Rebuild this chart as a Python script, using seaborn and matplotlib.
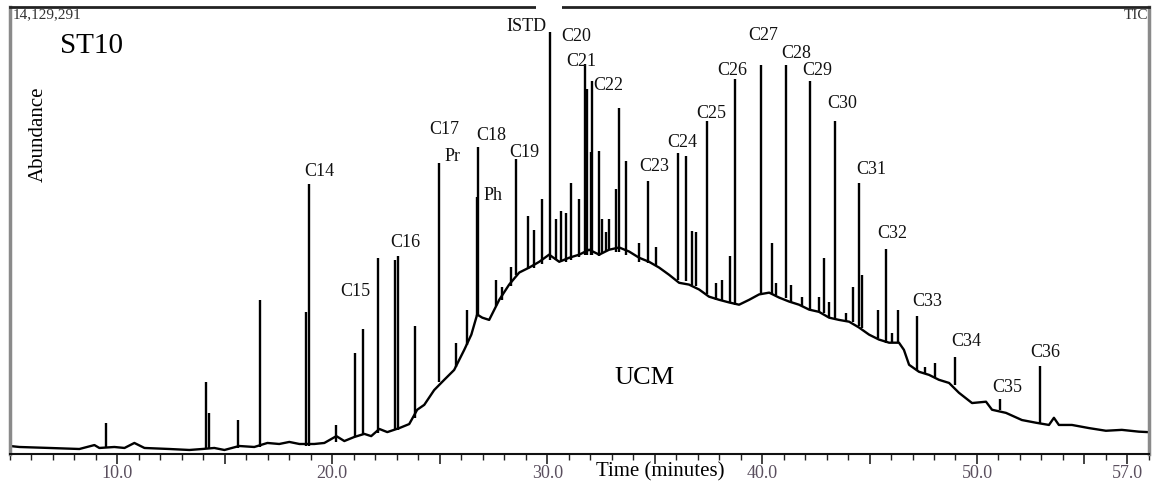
import numpy as np
import pandas as pd
import matplotlib
matplotlib.use("Agg")
import matplotlib.pyplot as plt
import matplotlib.transforms as mtransforms
from matplotlib.patches import Rectangle
from matplotlib.ticker import FixedLocator, MultipleLocator
import seaborn as sns

# ---------------- data ----------------
full_scale_label = "14,129,291"
sample_name = "ST10"

# background trace (baseline + unresolved complex mixture hump)
# time in minutes, abundance in % of full scale
base_time = [5.0, 5.44, 6.84, 8.23, 8.93, 9.16, 9.86, 10.33, 10.79, 11.26,
             12.42, 13.35, 13.95, 14.51, 14.98, 15.67, 16.37, 16.98, 17.53, 18.0,
             18.47, 19.16, 19.63, 20.19, 20.56, 21.02, 21.49, 21.81, 22.19, 22.56,
             23.12, 23.58, 23.95, 24.28, 24.74, 25.21, 25.67, 26.14, 26.47, 26.74,
             26.98, 27.3, 27.77, 28.23, 28.7, 29.16, 29.63, 30.09, 30.56, 31.02,
             31.49, 31.95, 32.42, 32.88, 33.35, 33.81, 34.28, 34.74, 35.21, 35.67,
             36.14, 36.6, 37.07, 37.53, 38.0, 38.47, 38.93, 39.4, 39.86, 40.33,
             40.79, 41.26, 41.72, 42.19, 42.65, 43.12, 43.58, 44.05, 44.51, 44.98,
             45.44, 45.91, 46.37, 46.6, 46.84, 47.3, 47.77, 48.23, 48.7, 49.16,
             49.77, 50.42, 50.7, 51.35, 52.09, 52.74, 53.35, 53.58, 53.81, 54.42,
             55.21, 56.0, 56.74, 57.53, 57.95]
base_abund = [1.79, 1.57, 1.35, 1.12, 2.0, 1.35, 1.57, 1.35, 2.47, 1.35,
              1.12, 0.9, 1.12, 1.35, 0.9, 1.79, 1.57, 2.47, 2.24, 2.7,
              2.24, 2.24, 2.47, 4.0, 2.9, 3.8, 4.5, 4.0, 5.6, 4.9,
              5.8, 6.7, 9.9, 11.0, 14.3, 16.6, 18.8, 23.3, 26.7, 31.2,
              30.5, 30.0, 34.5, 37.9, 40.6, 41.7, 43.0, 44.6, 43.0, 43.9,
              44.6, 45.7, 44.6, 45.7, 46.2, 45.3, 43.9, 43.0, 41.7, 40.1,
              38.3, 37.9, 36.8, 35.2, 34.5, 33.9, 33.4, 34.5, 35.7, 36.1,
              35.0, 34.1, 33.4, 32.3, 31.8, 30.5, 30.0, 29.6, 28.3, 26.7,
              25.6, 24.9, 24.9, 23.3, 19.96, 18.4, 17.7, 16.6, 15.9, 13.7,
              11.4, 11.7, 9.9, 9.2, 7.6, 7.0, 6.5, 8.1, 6.5, 6.5,
              5.8, 5.2, 5.4, 5.0, 4.9]

# resolved peaks: retention time, apex abundance, foot abundance (% of full scale)
peak_time = [9.47, 14.13, 14.28, 15.6, 16.65, 18.79, 18.9, 20.17, 21.06, 21.43,
             22.14, 22.93, 23.04, 23.85, 24.98, 25.75, 26.27, 26.74, 26.8, 27.61,
             27.91, 28.31, 28.54, 29.12, 29.4, 29.78, 30.14, 30.4, 30.64, 30.87,
             31.1, 31.49, 31.77, 31.86, 32.03, 32.1, 32.39, 32.55, 32.73, 32.88,
             33.2, 33.32, 33.66, 34.25, 34.71, 35.05, 36.09, 36.45, 36.74, 36.92,
             37.43, 37.85, 38.15, 38.5, 38.73, 39.97, 40.45, 40.63, 41.1, 41.33,
             41.87, 42.23, 42.65, 42.88, 43.12, 43.38, 43.89, 44.23, 44.51, 44.67,
             45.41, 45.75, 46.06, 46.34, 47.22, 47.6, 48.05, 48.98, 51.07, 52.92]
peak_top = [6.95, 16.2, 9.2, 7.6, 34.5, 31.8, 60.3, 6.5, 22.6, 28.0,
            43.9, 43.5, 44.2, 28.7, 65.2, 24.9, 32.3, 57.4, 68.7, 39.0,
            37.4, 41.9, 65.9, 53.2, 50.2, 57.0, 94.3, 52.5, 54.3, 54.0,
            60.7, 57.0, 87.2, 81.6, 67.5, 83.5, 67.8, 52.5, 49.6, 52.5,
            59.2, 77.3, 65.5, 47.3, 61.1, 46.4, 67.4, 66.7, 49.8, 49.6,
            74.5, 38.3, 39.0, 44.2, 83.9, 87.0, 47.2, 38.3, 87.0, 37.9,
            35.2, 83.5, 35.2, 43.9, 33.9, 74.5, 31.6, 37.4, 60.7, 40.1,
            32.3, 45.9, 27.1, 32.3, 30.9, 19.5, 20.4, 21.8, 12.3, 19.7]
peak_foot = [1.57, 1.35, 1.35, 1.35, 1.57, 1.8, 1.8, 2.7, 3.8, 4.3,
             4.7, 5.4, 5.4, 8.1, 16.1, 19.5, 24.4, 30.9, 30.9, 33.0,
             34.5, 37.5, 40.1, 41.3, 41.7, 42.4, 43.5, 43.5, 43.0, 43.0,
             43.5, 44.0, 44.5, 44.5, 44.6, 44.6, 44.4, 45.0, 45.5, 45.7,
             45.3, 45.3, 44.6, 43.0, 42.8, 42.2, 39.0, 38.6, 37.9, 37.6,
             35.7, 34.5, 34.2, 33.9, 33.4, 35.7, 35.9, 35.5, 35.0, 34.0,
             33.2, 32.3, 31.8, 31.6, 30.5, 30.5, 29.8, 29.6, 28.7, 28.3,
             26.0, 24.9, 24.9, 24.9, 18.8, 18.0, 17.3, 15.5, 9.9, 7.0]

# peak annotations
label_names = ["C14", "C15", "C16", "C17", "Pr", "C18", "Ph", "C19", "ISTD",
               "C20", "C21", "C22", "C23", "C24", "C25", "C26", "C27", "C28",
               "C29", "C30", "C31", "C32", "C33", "C34", "C35", "C36"]

# x tick labels
tick_values = [10.0, 20.0, 30.0, 40.0, 50.0, 57.0]

# ---------------- layout (label anchor positions, data coords) ----------------
label_pos = [(19.40, 63.2), (21.07, 36.3), (23.40, 47.3), (25.21, 72.6), (25.58, 66.6),
             (27.40, 71.3), (27.49, 57.8), (28.93, 67.5), (29.02, 95.7), (31.35, 93.3),
             (31.58, 87.7), (32.84, 82.5), (34.98, 64.3), (36.28, 69.7), (37.63, 76.2),
             (38.60, 85.9), (40.05, 93.7), (41.58, 89.7), (42.56, 85.7), (43.72, 78.5),
             (45.07, 63.7), (46.05, 49.3), (47.67, 34.1), (49.49, 25.1), (51.40, 14.8),
             (53.16, 22.6)]

# ---------------- plotting ----------------
sns.set_theme(style="ticks")
plt.rcParams["font.family"] = ["Liberation Serif", "DejaVu Serif"]

fig = plt.figure(figsize=(11.57, 4.93), dpi=100)
ax = fig.add_axes([0.0086, 0.0791, 0.9844, 0.9067])

base_df = pd.DataFrame({"time": base_time, "abundance": base_abund})
sns.lineplot(data=base_df, x="time", y="abundance", ax=ax, color="black",
             linewidth=1.7, estimator=None, sort=False)
ax.vlines(peak_time, peak_foot, peak_top, color="black", linewidth=1.7)

ax.set_xlim(5.0, 58.0)
ax.set_ylim(0, 100)
ax.set_xlabel("")
ax.set_ylabel("")
ax.set_yticks([])

major = [10, 15, 20, 25, 30, 35, 40, 45, 50, 55, 57]
ax.xaxis.set_major_locator(FixedLocator(major))
ax.set_xticklabels([f"{v:.1f}" if v in tick_values else "" for v in major])
ax.xaxis.set_minor_locator(MultipleLocator(1))
ax.tick_params(axis="x", which="major", length=7, width=1.2, direction="out",
               colors="#222222", labelcolor="#5a4f5e", labelsize=13, pad=1)
ax.tick_params(axis="x", which="minor", length=4, width=1.0, direction="out", color="#222222")

for side, col, lw in [("left", "#8a8a8a", 2.5), ("right", "#8a8a8a", 2.5),
                      ("top", "#222222", 2.0), ("bottom", "#111111", 1.5)]:
    ax.spines[side].set_visible(True)
    ax.spines[side].set_color(col)
    ax.spines[side].set_linewidth(lw)

# gap in the top frame above the ISTD peak
trans = mtransforms.blended_transform_factory(ax.transData, ax.transAxes)
ax.add_patch(Rectangle((29.5, 0.985), 1.2, 0.03, transform=trans, facecolor="white",
                       edgecolor="none", clip_on=False, zorder=5))

for name, (tx, ty) in zip(label_names, label_pos):
    ax.text(tx, ty, name, ha="center", va="center", fontsize=13, color="#111111")

ax.text(0.002, 0.982, full_scale_label, transform=ax.transAxes, ha="left", va="center",
        fontsize=11, color="#333333")
ax.text(0.999, 0.982, "TIC", transform=ax.transAxes, ha="right", va="center",
        fontsize=11, color="#333333")
ax.text(0.072, 0.913, sample_name, transform=ax.transAxes, ha="center", va="center",
        fontsize=21, color="black")
ax.text(0.0246, 0.715, "Abundance", transform=ax.transAxes, ha="center", va="center",
        rotation=90, fontsize=15, color="black")
ax.text(34.51, 17.0, "UCM", ha="center", va="center", fontsize=19, color="black")
ax.text(0.571, -0.04, "Time (minutes)", transform=ax.transAxes, ha="center", va="center",
        fontsize=15, color="black")

fig.savefig("out.png", dpi=100)
